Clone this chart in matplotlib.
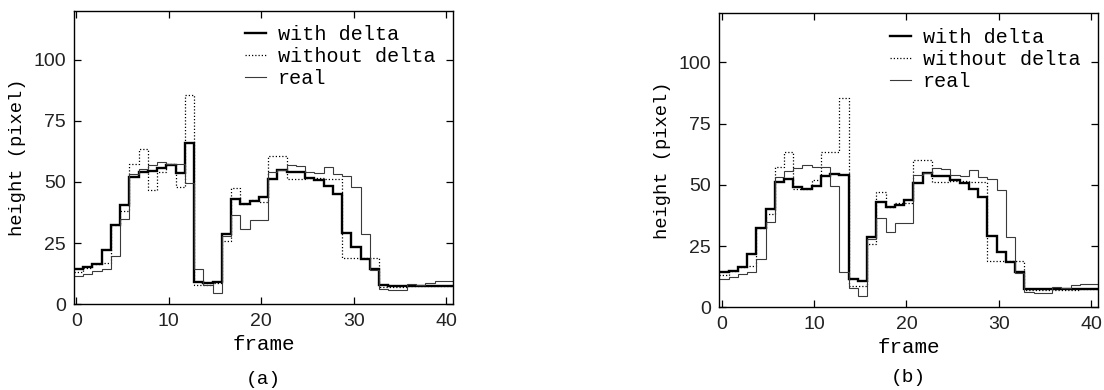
import numpy as np
import matplotlib
matplotlib.use("Agg")
import matplotlib.pyplot as plt

frames = np.arange(41)

real = [11.7, 12.5, 13.5, 14.3, 19.9, 34.8, 53.2, 55.5, 57.0, 58.0, 57.4, 57.4, 49.5, 14.6,
        7.8, 4.8, 28.0, 36.4, 30.8, 34.6, 34.4, 54.2, 55.0, 57.0, 56.5, 54.2, 53.7, 56.0,
        53.3, 52.4, 47.8, 28.7, 14.2, 6.2, 5.7, 5.7, 8.3, 7.7, 8.9, 9.6, 9.6]

with_delta_a = [14.6, 15.3, 16.4, 22.0, 32.4, 40.4, 52.0, 54.2, 54.6, 55.9, 57.0, 53.6, 66.1, 9.0,
                8.6, 9.2, 28.8, 43.0, 40.9, 42.3, 43.9, 51.2, 55.0, 54.2, 54.2, 51.8, 50.8, 48.2,
                45.1, 29.3, 23.3, 18.5, 14.3, 7.9, 7.6, 7.5, 7.6, 7.5, 7.5, 7.5, 7.5]

without_delta_a = [13.4, 15.0, 16.4, 16.8, 32.4, 38.0, 57.5, 63.4, 46.7, 54.2, 57.3, 47.9, 85.5, 7.9,
                   7.7, 8.8, 25.9, 47.4, 40.8, 42.8, 41.8, 60.5, 60.5, 51.2, 51.3, 51.6, 51.6, 51.4,
                   51.4, 18.8, 18.8, 18.8, 18.8, 7.2, 7.0, 7.0, 7.3, 7.3, 7.3, 7.4, 7.4]

with_delta_b = [14.3, 14.9, 16.6, 21.8, 32.2, 40.0, 51.3, 52.2, 49.0, 48.4, 49.6, 53.5, 54.3, 54.0,
                11.4, 10.8, 28.6, 42.8, 40.8, 41.8, 43.8, 50.9, 54.9, 53.6, 53.6, 52.0, 50.6, 48.2,
                45.1, 29.1, 22.7, 18.6, 14.3, 7.3, 7.3, 7.3, 7.3, 7.3, 7.3, 7.3, 7.3]

without_delta_b = [13.2, 15.0, 16.6, 16.9, 32.2, 38.1, 57.1, 63.2, 48.3, 48.3, 52.0, 63.5, 63.5, 85.3,
                   8.5, 8.5, 25.8, 47.2, 41.0, 42.7, 42.5, 60.1, 60.1, 51.3, 51.3, 51.5, 51.5, 51.3,
                   51.3, 18.9, 18.9, 18.9, 18.9, 7.1, 7.0, 7.0, 7.2, 7.2, 7.2, 7.3, 7.3]

xticks = [0, 10, 20, 30, 40]
yticks = [0, 25, 50, 75, 100]
legend_labels = ["with delta", "without delta", "real"]
captions = ["(a)", "(b)"]

mono = "Liberation Mono"
sans = "Liberation Sans"

fig = plt.figure(figsize=(11.04, 3.90), dpi=100)
ax_a = fig.add_axes([74 / 1104, 1 - 304.3 / 390, 379 / 1104, 293.6 / 390])
ax_b = fig.add_axes([719.3 / 1104, 1 - 307.3 / 390, 379 / 1104, 294 / 390])

edges = np.append(frames - 0.25, frames[-1] + 0.75)

for ax, wd, wod, cap, cap_y in [(ax_a, with_delta_a, without_delta_a, captions[0], 380.0),
                                (ax_b, with_delta_b, without_delta_b, captions[1], 377.5)]:
    h1 = ax.stairs(wd, edges, baseline=None, color="black", lw=1.7, label=legend_labels[0])
    h2 = ax.stairs(wod, edges, baseline=None, color="black", lw=0.9,
                   linestyle=(0, (1, 1.6)), label=legend_labels[1])
    h3 = ax.stairs(real, edges, baseline=None, color="#3a3a3a", lw=0.8, label=legend_labels[2])
    ax.set_xlim(-0.25, 40.75)
    ax.set_ylim(0, 120)
    ax.set_xticks(xticks)
    ax.set_yticks(yticks)
    ax.tick_params(direction="in", top=True, right=True, length=5, width=0.9,
                   labelsize=14)
    ax.tick_params(axis="y", pad=6)
    ax.tick_params(axis="x", pad=6)
    for lbl in ax.get_xticklabels() + ax.get_yticklabels():
        lbl.set_family(sans)
        lbl.set_color("#222222")
    for sp in ax.spines.values():
        sp.set_linewidth(1.0)
    ax.set_xlabel("frame", family=mono, fontsize=15, labelpad=4)
    ax.set_ylabel("height (pixel)", family=mono, fontsize=13.5, labelpad=5)
    ax.legend(handles=[h1, h2, h3], loc="upper left", bbox_to_anchor=(0.45, 0.95),
              frameon=False, prop={"family": mono, "size": 14.5},
              handlelength=1.05, handletextpad=0.6, labelspacing=0.15,
              borderpad=0, borderaxespad=0)
    pos = ax.get_position()
    fig.text(pos.x0 + pos.width / 2, 1 - cap_y / 390, cap, ha="center", va="center",
             family=mono, fontsize=14)

fig.savefig("out.png", dpi=100)
